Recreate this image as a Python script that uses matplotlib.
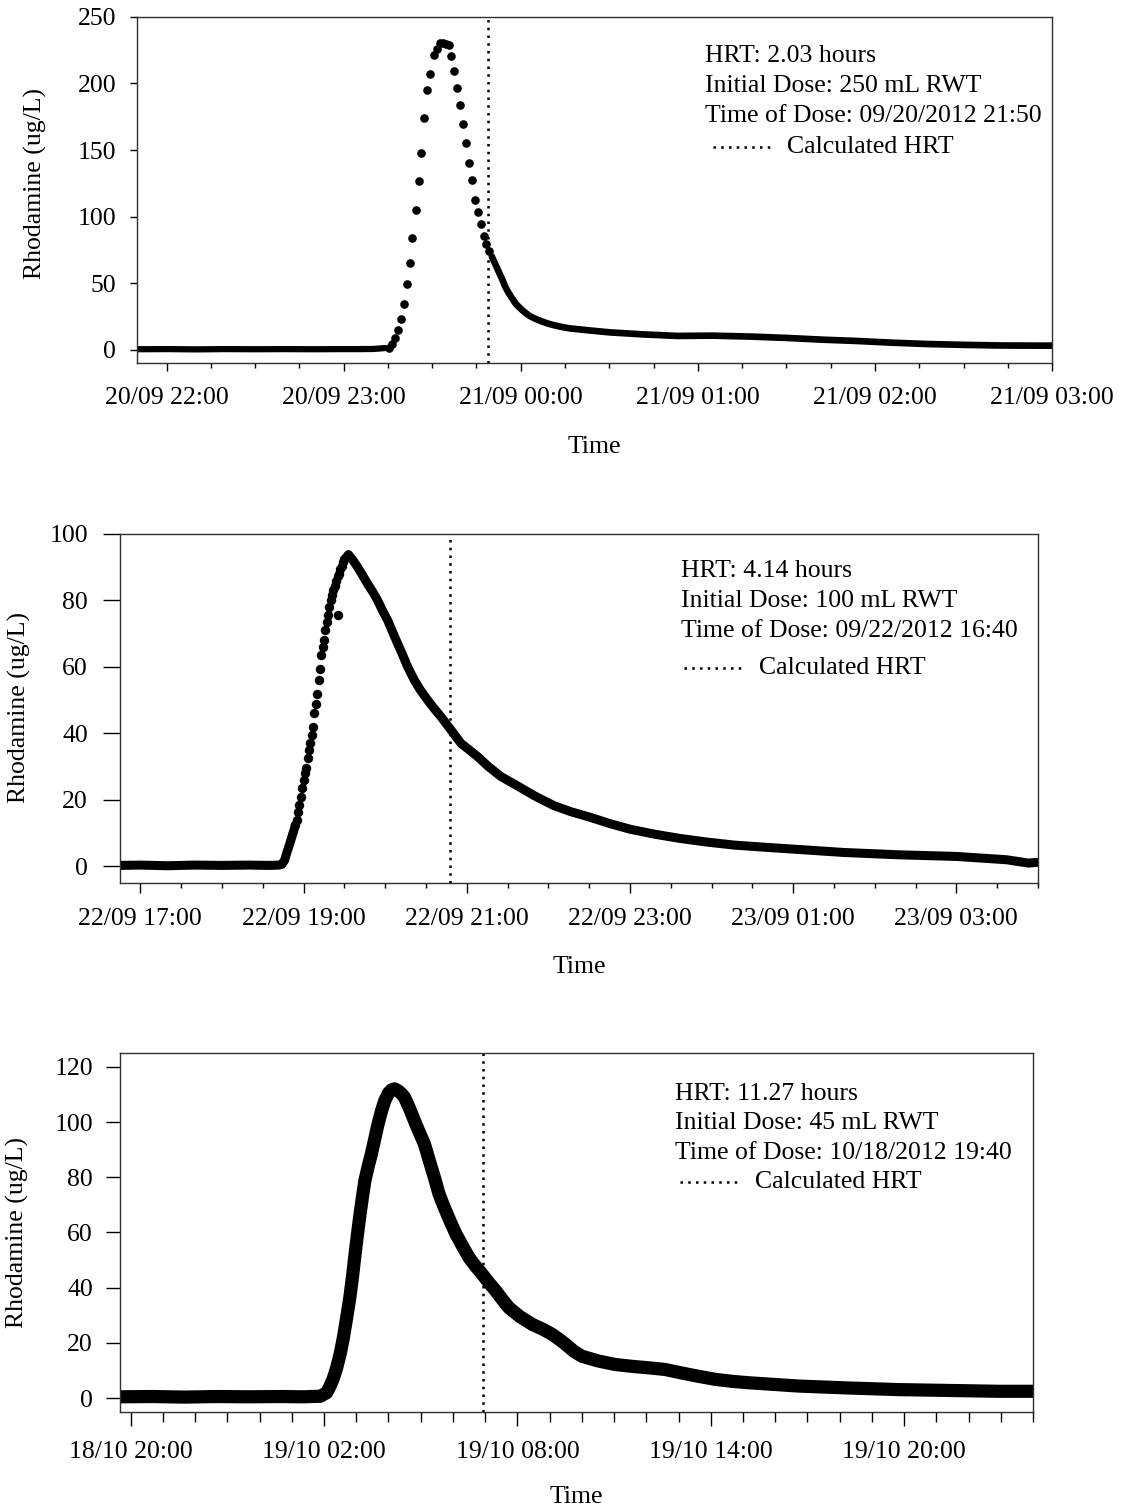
import pandas as pd
import numpy as np
import matplotlib
matplotlib.use("Agg")
import matplotlib.pyplot as plt
import matplotlib.dates as mdates

plt.rcParams['font.family'] = ['Liberation Serif', 'DejaVu Serif']
plt.rcParams['font.size'] = 18.5

#%% data (minutes relative to a reference time)

# panel 1 - 20/09 run, ref = 20/09 23:00
p1_ref = "2012-09-20 23:00"
p1_base_min = [-70, -60, -50, -40, -30, -20, -10, 0, 5, 10, 12, 14]
p1_base_val = [0.3, 0.4, 0.2, 0.4, 0.3, 0.4, 0.3, 0.4, 0.4, 0.5, 0.8, 1.2]
p1_dot_min = [15.3, 16.3, 17.3, 18.5, 19.5, 20.3, 21.4, 22.4, 23.3, 24.5, 25.4, 26.3,
              27.4, 28.3, 29.3, 30.6, 31.5, 32.5, 33.7, 34.8, 35.7, 36.4, 37.5, 38.4,
              39.3, 40.5, 41.5, 42.4, 43.5, 44.5, 45.5, 46.5, 47.6, 48.4, 49.3]
p1_dot_val = [1.3, 4.0, 8.8, 15.0, 23.0, 34.3, 49.3, 64.8, 83.6, 104.6, 126.9, 148.1,
              173.9, 195.2, 207.0, 221.5, 226.0, 230.3, 230.7, 229.7, 228.8, 220.7, 209.2, 196.4,
              183.9, 169.9, 155.6, 140.6, 127.6, 112.6, 103.4, 94.1, 85.6, 79.3, 73.8]
p1_tail_min = [50.2, 51.1, 52, 53, 53.9, 54.7, 55.6, 56.5, 57.4, 58.3, 59.5, 60.6, 61.8,
               62.9, 64, 65.1, 67.4, 69.5, 71.9, 74, 76.5, 80, 83, 90, 101, 113, 125, 138,
               150, 162, 174, 186, 198, 210, 223, 235, 240]
p1_tail_val = [70.0, 65.5, 61.3, 56.3, 52.0, 47.5, 43.8, 40.5, 37.5, 34.5, 31.8, 29.5, 27.3,
               25.5, 24.2, 23.0, 21.0, 19.4, 18.0, 17.0, 16.0, 15.2, 14.5, 13.0, 11.5, 10.3,
               10.5, 9.8, 8.8, 7.5, 6.5, 5.2, 4.2, 3.6, 3.1, 3.0, 3.0]
p1_hrt_time = "2012-09-20 23:49"
p1_notes = ["HRT: 2.03 hours", "Initial Dose: 250 mL RWT", "Time of Dose: 09/20/2012 21:50"]

# panel 2 - 22/09 run, ref = 22/09 19:00
p2_ref = "2012-09-22 19:00"
p2_base_min = [-135, -120, -100, -80, -60, -40, -25, -18, -16, -14, -12, -10, -8, -7, -6]
p2_base_val = [0.3, 0.4, 0.2, 0.4, 0.3, 0.4, 0.3, 0.4, 0.6, 1.8, 4.5, 7.0, 9.7, 11.0, 12.5]
p2_dot_min = [-6, -5, -4, -3, -2, -1, 0, 1, 2, 3, 4, 5, 6, 7, 8, 9, 10, 11, 12, 13,
              14, 15, 16, 17, 18, 19, 20, 21, 22, 23, 24, 25, 26, 27, 28, 29, 30, 31, 32, 33, 25]
p2_dot_val = [12.5, 14, 16.5, 18.5, 21, 23.5, 26, 28, 29.5, 32.5, 35, 37, 39.5, 42, 46, 49,
              52, 56, 59.5, 63.5, 66, 68, 71, 73.5, 75.5, 78, 80, 81.5, 83, 84.5, 86, 87.5,
              88, 89.5, 90.5, 91.5, 92.5, 93, 93.5, 93.8, 75.6]
p2_tail_min = [33, 36, 39.8, 43.5, 47.1, 51, 54.5, 58, 61.9, 65.5, 69.2, 73, 76.6, 81.5, 86,
               91.3, 96, 101.1, 108.5, 115.8, 122, 128.1, 136, 145.3, 157, 170, 184, 197,
               210.6, 225, 240, 258, 277, 297, 317, 338, 360, 397, 437, 480, 517, 533, 539]
p2_tail_val = [93.8, 92.3, 90, 87.5, 85, 82.5, 80, 77, 74, 70.5, 67, 63.5, 60, 56, 53,
               50, 47.5, 45, 41, 37, 35, 33, 30, 27, 24.3, 21.2, 18.3, 16.4,
               14.8, 12.9, 11.2, 9.7, 8.4, 7.3, 6.4, 5.8, 5.2, 4.2, 3.5, 3.0, 2.0, 1.0, 1.2]
p2_hrt_time = "2012-09-22 20:48"
p2_notes = ["HRT: 4.14 hours", "Initial Dose: 100 mL RWT", "Time of Dose: 09/22/2012 16:40"]

# panel 3 - 18/10 run, ref = 19/10 02:00
p3_ref = "2012-10-19 02:00"
p3_min = [-380, -320, -260, -200, -140, -80, -40, -7, 5, 11, 17, 23.5, 30, 36, 42, 48, 53,
          57, 62, 67, 72, 76, 82, 88, 94, 100.5, 107, 113, 120, 126, 131.5, 138, 144, 150,
          159, 168.5, 178, 187, 196, 205.5, 214, 224, 235, 245.7, 258, 270, 282, 295, 307,
          320, 332, 344.5, 365, 388, 407, 425, 440, 450, 465, 480, 510, 542, 575, 604, 635,
          664, 695, 729, 760, 790, 883, 976, 1071, 1164, 1256, 1320]
p3_val = [0.5, 0.6, 0.4, 0.6, 0.5, 0.6, 0.5, 0.7, 2.0, 4.3, 7.0, 11.0, 16.0, 21.9, 29.0,
          36.4, 44.0, 50.9, 59.0, 66.6, 73.5, 78.7, 83.8, 88.3, 93.5, 99.2, 104.0, 107.7,
          110.5, 111.7, 112.0, 111.3, 110.3, 108.9, 105.0, 100.4, 96.0, 92.0, 86.0, 79.9,
          74.0, 69.0, 64.0, 59.4, 55.0, 50.9, 47.8, 44.8, 41.8, 38.8, 35.7, 32.7, 29.5,
          26.7, 25.0, 23.1, 21.0, 19.5, 17.0, 15.2, 13.5, 12.2, 11.5, 11.0, 10.4, 9.2, 8.0,
          6.8, 6.1, 5.6, 4.4, 3.7, 3.1, 2.8, 2.5, 2.5]
p3_hrt_time = "2012-10-19 06:56"
p3_notes = ["HRT: 11.27 hours", "Initial Dose: 45 mL RWT", "Time of Dose: 10/18/2012 19:40"]


def to_times(ref, minutes):
    return pd.Timestamp(ref) + pd.to_timedelta(np.array(minutes, dtype=float), unit="min")


#%% shared styling

def style_axes(ax, xlim, ylim, yticks, major_loc, minor_loc, ytick_len, ytick_pad, xtick_len):
    ax.set_xlim(pd.Timestamp(xlim[0]), pd.Timestamp(xlim[1]))
    ax.set_ylim(*ylim)
    ax.set_yticks(yticks)
    ax.xaxis.set_major_locator(major_loc)
    ax.xaxis.set_minor_locator(minor_loc)
    ax.xaxis.set_major_formatter(mdates.DateFormatter("%d/%m %H:%M"))
    for sp in ax.spines.values():
        sp.set_linewidth(1.0)
        sp.set_color("#303030")
    ax.tick_params(axis="x", which="major", direction="out", length=xtick_len[0], width=1, pad=11)
    ax.tick_params(axis="x", which="minor", direction="out", length=xtick_len[1], width=1)
    ax.tick_params(axis="y", which="major", direction="out", length=ytick_len, width=1, pad=ytick_pad)
    ax.set_xlabel("Time")
    ax.set_ylabel("Rhodamine (ug/L)")


def add_notes(ax, notes, x, ys, dot_x, text_x):
    for s, y in zip(notes, ys[:3]):
        ax.text(x, y, s, transform=ax.transAxes, ha="left", va="center")
    ax.plot(dot_x, [ys[3], ys[3]], transform=ax.transAxes, color="k", lw=1.8,
            ls=(0, (1, 2.1)), clip_on=False)
    ax.text(text_x, ys[3], "Calculated HRT", transform=ax.transAxes, ha="left", va="center")


fig = plt.figure(figsize=(11.21, 15.11), dpi=100)

#%% panel 1
ax1 = fig.add_axes([0.1222, 0.7598, 0.8163, 0.2290])
ax1.plot(to_times(p1_ref, p1_base_min), p1_base_val, color="k", lw=4.5, solid_capstyle="round")
ax1.plot(to_times(p1_ref, p1_dot_min), p1_dot_val, "o", color="k", ms=6.2, mew=0)
ax1.plot(to_times(p1_ref, p1_tail_min), p1_tail_val, color="k", lw=4.8, solid_capstyle="round",
         solid_joinstyle="round")
ax1.axvline(pd.Timestamp(p1_hrt_time), color="k", lw=1.8, ls=(0, (1, 2.1)))
style_axes(ax1, ("2012-09-20 21:50", "2012-09-21 03:00"), (-10, 250), np.arange(0, 251, 50),
           mdates.HourLocator(), mdates.MinuteLocator(byminute=[0, 15, 30, 45]), 5, 10, (6, 3.5))
ax1.yaxis.set_label_coords(-0.098, 0.52)
ax1.xaxis.set_label_coords(0.5, -0.243)
ax1.xaxis.label.set_va("center")
add_notes(ax1, p1_notes, 0.621, [0.887, 0.801, 0.714, 0.624], [0.6295, 0.694], 0.710)

#%% panel 2
ax2 = fig.add_axes([0.1070, 0.4156, 0.8189, 0.2310])
ax2.plot(to_times(p2_ref, p2_base_min), p2_base_val, color="k", lw=6.5, solid_capstyle="round",
         solid_joinstyle="round")
ax2.plot(to_times(p2_ref, p2_dot_min), p2_dot_val, "o", color="k", ms=6.8, mew=0)
ax2.plot(to_times(p2_ref, p2_tail_min), p2_tail_val, color="k", lw=6.5, solid_capstyle="round",
         solid_joinstyle="round")
ax2.axvline(pd.Timestamp(p2_hrt_time), color="k", lw=1.8, ls=(0, (1, 2.1)))
style_axes(ax2, ("2012-09-22 16:45", "2012-09-23 04:00"), (-5, 100), np.arange(0, 101, 20),
           mdates.HourLocator(byhour=range(1, 24, 2)), mdates.MinuteLocator(byminute=[0, 30]),
           12, 11, (7, 3.5))
ax2.yaxis.set_label_coords(-0.097, 0.504)
ax2.xaxis.set_label_coords(0.5, -0.241)
ax2.xaxis.label.set_va("center")
add_notes(ax2, p2_notes, 0.611, [0.894, 0.808, 0.722, 0.616], [0.614, 0.681], 0.696)

#%% panel 3
ax3 = fig.add_axes([0.1070, 0.06552, 0.8145, 0.2376])
ax3.plot(to_times(p3_ref, p3_min), p3_val, color="k", lw=9.5, solid_capstyle="round",
         solid_joinstyle="round")
ax3.axvline(pd.Timestamp(p3_hrt_time), color="k", lw=1.8, ls=(0, (1, 2.1)))
style_axes(ax3, ("2012-10-18 19:40", "2012-10-20 00:00"), (-5, 125), np.arange(0, 121, 20),
           mdates.HourLocator(byhour=[2, 8, 14, 20]), mdates.HourLocator(), 10, 9.5, (10, 7))
ax3.yaxis.set_label_coords(-0.100, 0.5)
ax3.xaxis.set_label_coords(0.5, -0.237)
ax3.xaxis.label.set_va("center")
add_notes(ax3, p3_notes, 0.608, [0.886, 0.805, 0.721, 0.641], [0.613, 0.679], 0.695)

fig.savefig("out.png", dpi=100)
